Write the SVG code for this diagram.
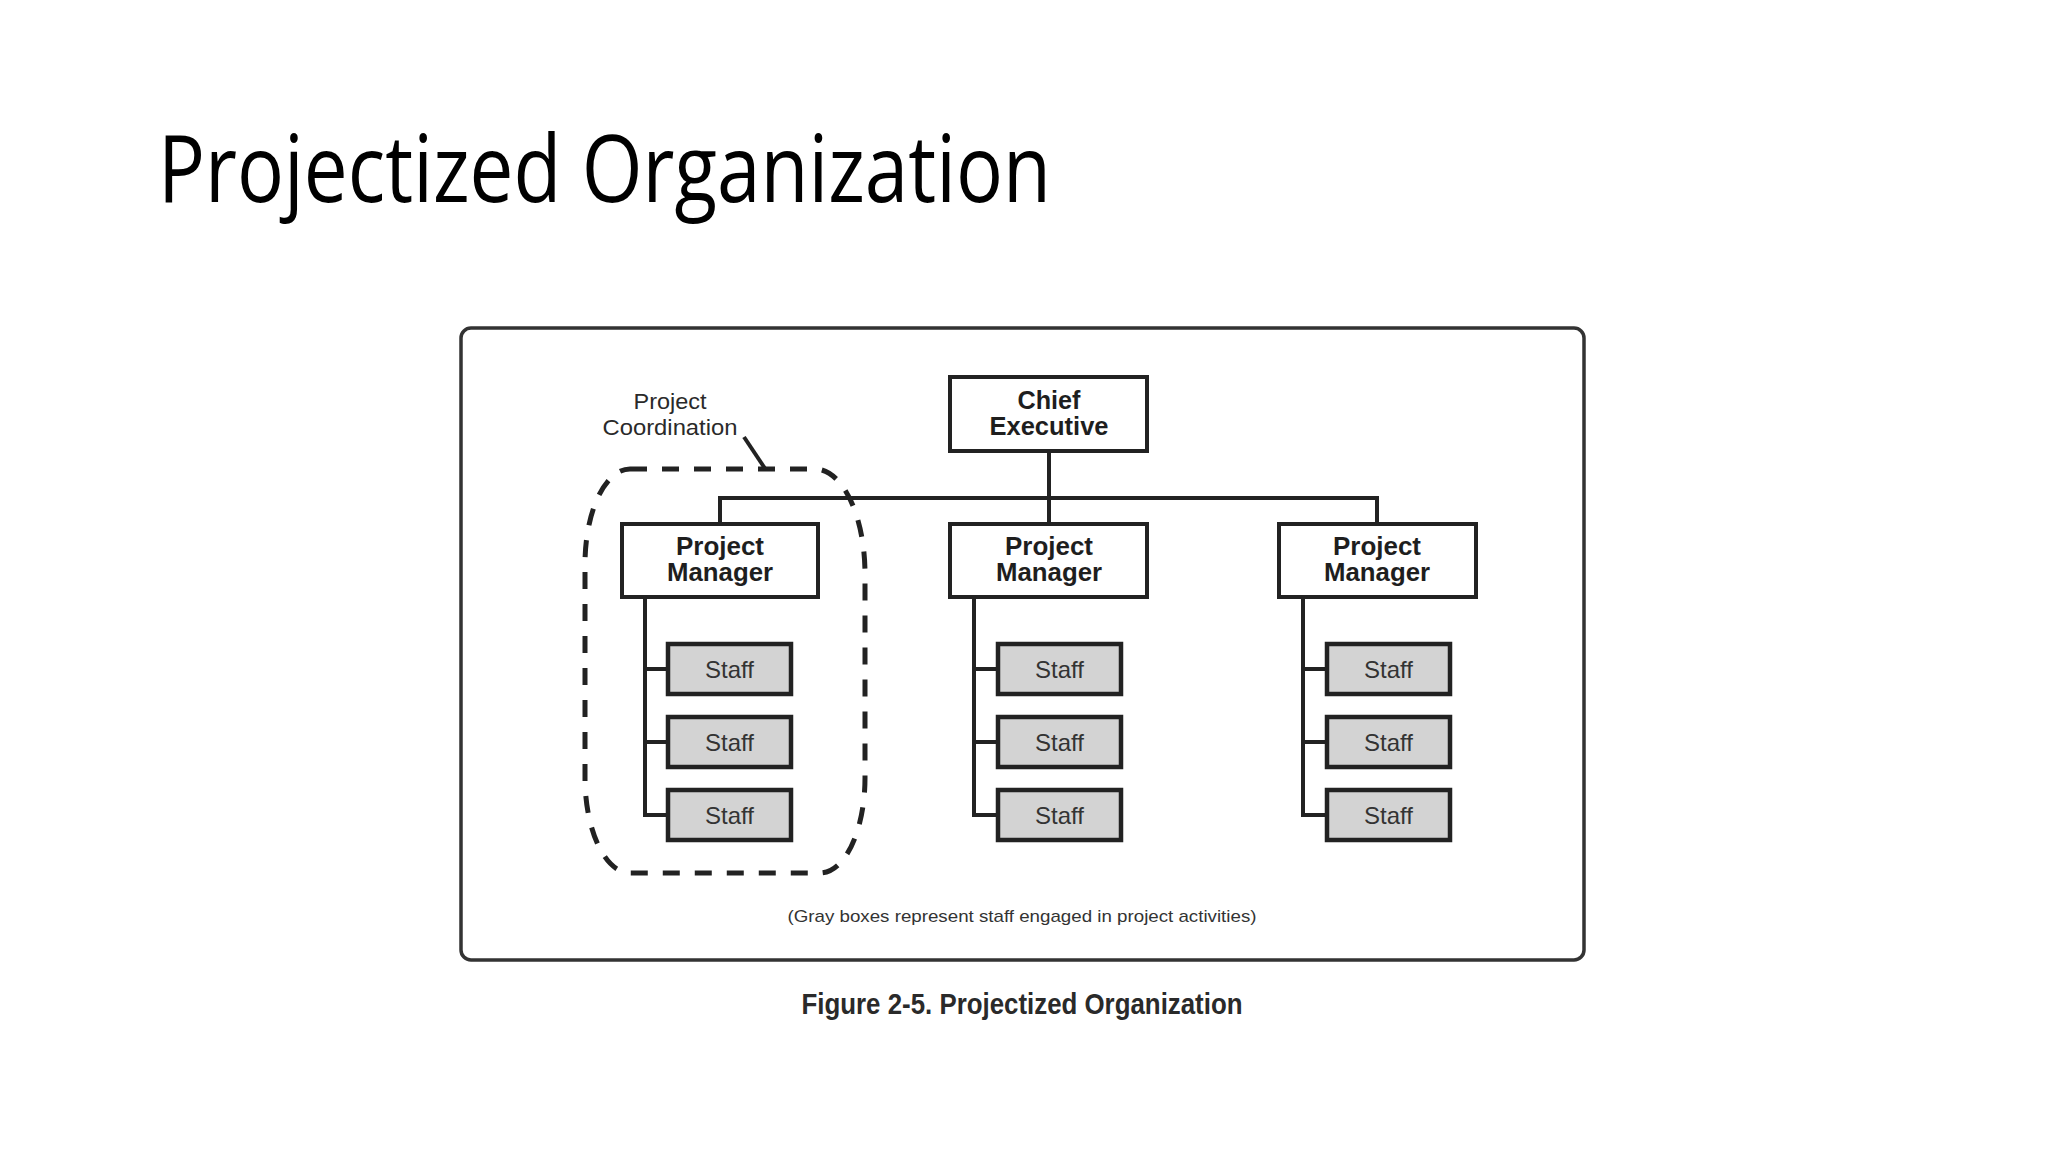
<svg xmlns="http://www.w3.org/2000/svg" width="2048" height="1152" viewBox="0 0 2048 1152">
<defs>
<style>
.frame{fill:none;stroke:#333;stroke-width:3.5}
.box{fill:#fff;stroke:#222;stroke-width:4}
.staff{fill:#d3d3d3;stroke:#222;stroke-width:4.5}
.line{fill:none;stroke:#222;stroke-width:4}
.dash{fill:none;stroke:#222;stroke-width:5;stroke-dasharray:17 15}
.bt{font-family:"Liberation Sans",Arial,sans-serif;font-weight:bold;font-size:25px;fill:#1e1e1e;text-anchor:middle}
.st{font-family:"Liberation Sans",Arial,sans-serif;font-size:24px;fill:#333;text-anchor:middle}
.lbl{font-family:"Liberation Sans",Arial,sans-serif;font-size:22px;fill:#2a2a2a;text-anchor:middle}
</style>
</defs>
<rect width="2048" height="1152" fill="#fff"/>
<text x="158" y="202" font-family="'Open Sans','Noto Sans',sans-serif" font-size="94" font-weight="500" fill="#000" textLength="893" lengthAdjust="spacingAndGlyphs">Projectized Organization</text>
<rect class="frame" x="461" y="328" width="1123" height="632" rx="10"/>
<g id="connectors">
<line class="line" x1="718" y1="498" x2="1379" y2="498"/>
<line class="line" x1="720" y1="496" x2="720" y2="524"/>
<line class="line" x1="1049" y1="451" x2="1049" y2="524"/>
<line class="line" x1="1377" y1="496" x2="1377" y2="524"/>
<path class="line" d="M645 597 V815 H668 M645 669 H668 M645 742 H668"/>
<path class="line" d="M974 597 V815 H998 M974 669 H998 M974 742 H998"/>
<path class="line" d="M1303 597 V815 H1327 M1303 669 H1327 M1303 742 H1327"/>
</g>
<g id="project-coordination">
<path class="dash" d="M630 469 H815 A50 105 0 0 1 865 574 V778 A45 95 0 0 1 820 873 H630 A45 95 0 0 1 585 778 V564 A45 95 0 0 1 630 469 Z"/>
<line class="line" x1="744" y1="437" x2="766" y2="470" stroke-width="3"/>
<text class="lbl" x="670" y="409" textLength="73" lengthAdjust="spacingAndGlyphs">Project</text>
<text class="lbl" x="670" y="435" textLength="135" lengthAdjust="spacingAndGlyphs">Coordination</text>
</g>
<g id="chief-executive">
<rect class="box" x="950" y="377" width="197" height="74"/>
<text class="bt" x="1049" y="409" textLength="63" lengthAdjust="spacingAndGlyphs">Chief</text>
<text class="bt" x="1049" y="435" textLength="119" lengthAdjust="spacingAndGlyphs">Executive</text>
</g>
<g id="pm1">
<rect class="box" x="622" y="524" width="196" height="73"/>
<text class="bt" x="720" y="555" textLength="88" lengthAdjust="spacingAndGlyphs">Project</text>
<text class="bt" x="720" y="581" textLength="106" lengthAdjust="spacingAndGlyphs">Manager</text>
</g>
<g id="pm2">
<rect class="box" x="950" y="524" width="197" height="73"/>
<text class="bt" x="1049" y="555" textLength="88" lengthAdjust="spacingAndGlyphs">Project</text>
<text class="bt" x="1049" y="581" textLength="106" lengthAdjust="spacingAndGlyphs">Manager</text>
</g>
<g id="pm3">
<rect class="box" x="1279" y="524" width="197" height="73"/>
<text class="bt" x="1377" y="555" textLength="88" lengthAdjust="spacingAndGlyphs">Project</text>
<text class="bt" x="1377" y="581" textLength="106" lengthAdjust="spacingAndGlyphs">Manager</text>
</g>
<g id="staff-1-1"><rect class="staff" x="668" y="644" width="123" height="50"/><text class="st" x="729.5" y="678">Staff</text></g>
<g id="staff-1-2"><rect class="staff" x="668" y="717" width="123" height="50"/><text class="st" x="729.5" y="751">Staff</text></g>
<g id="staff-1-3"><rect class="staff" x="668" y="790" width="123" height="50"/><text class="st" x="729.5" y="824">Staff</text></g>
<g id="staff-2-1"><rect class="staff" x="998" y="644" width="123" height="50"/><text class="st" x="1059.5" y="678">Staff</text></g>
<g id="staff-2-2"><rect class="staff" x="998" y="717" width="123" height="50"/><text class="st" x="1059.5" y="751">Staff</text></g>
<g id="staff-2-3"><rect class="staff" x="998" y="790" width="123" height="50"/><text class="st" x="1059.5" y="824">Staff</text></g>
<g id="staff-3-1"><rect class="staff" x="1327" y="644" width="123" height="50"/><text class="st" x="1388.5" y="678">Staff</text></g>
<g id="staff-3-2"><rect class="staff" x="1327" y="717" width="123" height="50"/><text class="st" x="1388.5" y="751">Staff</text></g>
<g id="staff-3-3"><rect class="staff" x="1327" y="790" width="123" height="50"/><text class="st" x="1388.5" y="824">Staff</text></g>
<text x="1022" y="922" font-family="'Liberation Sans',Arial,sans-serif" font-size="17" fill="#333" text-anchor="middle" textLength="469" lengthAdjust="spacingAndGlyphs">(Gray boxes represent staff engaged in project activities)</text>
<text x="1022" y="1014" font-family="'Liberation Sans',Arial,sans-serif" font-weight="bold" font-size="30" fill="#2a2a2a" text-anchor="middle" textLength="441" lengthAdjust="spacingAndGlyphs">Figure 2-5. Projectized Organization</text>
</svg>
